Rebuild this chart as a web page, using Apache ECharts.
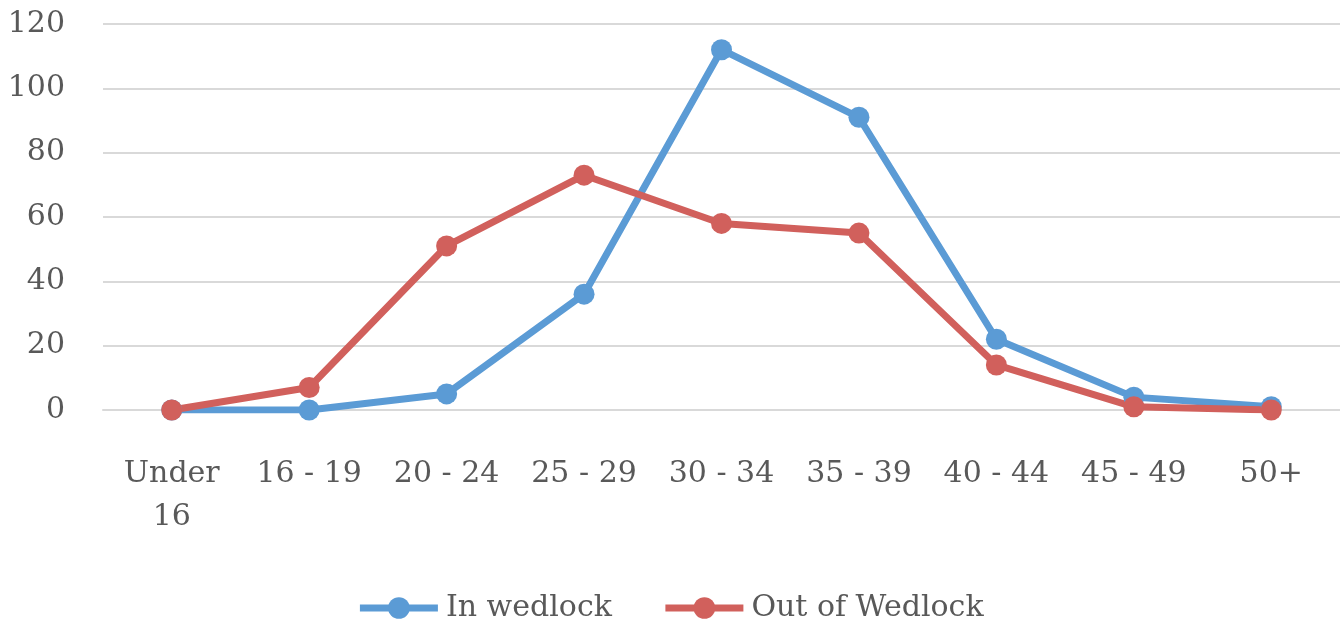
<!DOCTYPE html>
<html><head><meta charset="utf-8">
<script src="https://cdn.jsdelivr.net/npm/echarts@6/dist/echarts.min.js"></script>
<style>html,body{margin:0;padding:0;background:#fff}#c{width:1340px;height:626px}</style>
</head><body><div id="c"></div>
<script>
const categories = ['Under\n16','16 - 19','20 - 24','25 - 29','30 - 34','35 - 39','40 - 44','45 - 49','50+'];
const inWedlock = [0, 0, 5, 36, 112, 91, 22, 4, 1];
const outOfWedlock = [0, 7, 51, 73, 58, 55, 14, 1, 0];
const seriesNames = ['In wedlock', 'Out of Wedlock'];
const FONT = 'DejaVu Serif';
const chart = echarts.init(document.getElementById('c'));
chart.setOption({
  animation: false,
  textStyle: {fontFamily: FONT},
  grid: {left: 103, right: 0, top: 24, bottom: 216, containLabel: false},
  legend: {
    top: 593, left: 'center', itemWidth: 78, itemHeight: 27, itemGap: 50, padding: 0,
    textStyle: {fontFamily: FONT, fontSize: 30, color: '#595959', padding: [0, 0, 0, 3]},
    lineStyle: {width: 7},
    data: seriesNames
  },
  xAxis: {
    type: 'category', data: categories, boundaryGap: true,
    axisLine: {lineStyle: {color: '#d9d9d9', width: 2}},
    axisTick: {show: false},
    axisLabel: {fontFamily: FONT, fontSize: 30, color: '#595959', margin: 43, lineHeight: 43, interval: 0}
  },
  yAxis: {
    type: 'value', min: 0, max: 120, interval: 20,
    axisLine: {show: false}, axisTick: {show: false},
    splitLine: {lineStyle: {color: '#d9d9d9', width: 2}},
    axisLabel: {fontFamily: FONT, fontSize: 30, color: '#595959', margin: 38}
  },
  series: [
    {name: seriesNames[0], type: 'line', data: inWedlock, symbol: 'circle', symbolSize: 21,
     lineStyle: {width: 7, color: '#5B9BD5'}, itemStyle: {color: '#5B9BD5'}},
    {name: seriesNames[1], type: 'line', data: outOfWedlock, symbol: 'circle', symbolSize: 21,
     lineStyle: {width: 7, color: '#D1605C'}, itemStyle: {color: '#D1605C'}}
  ]
});
</script></body></html>
